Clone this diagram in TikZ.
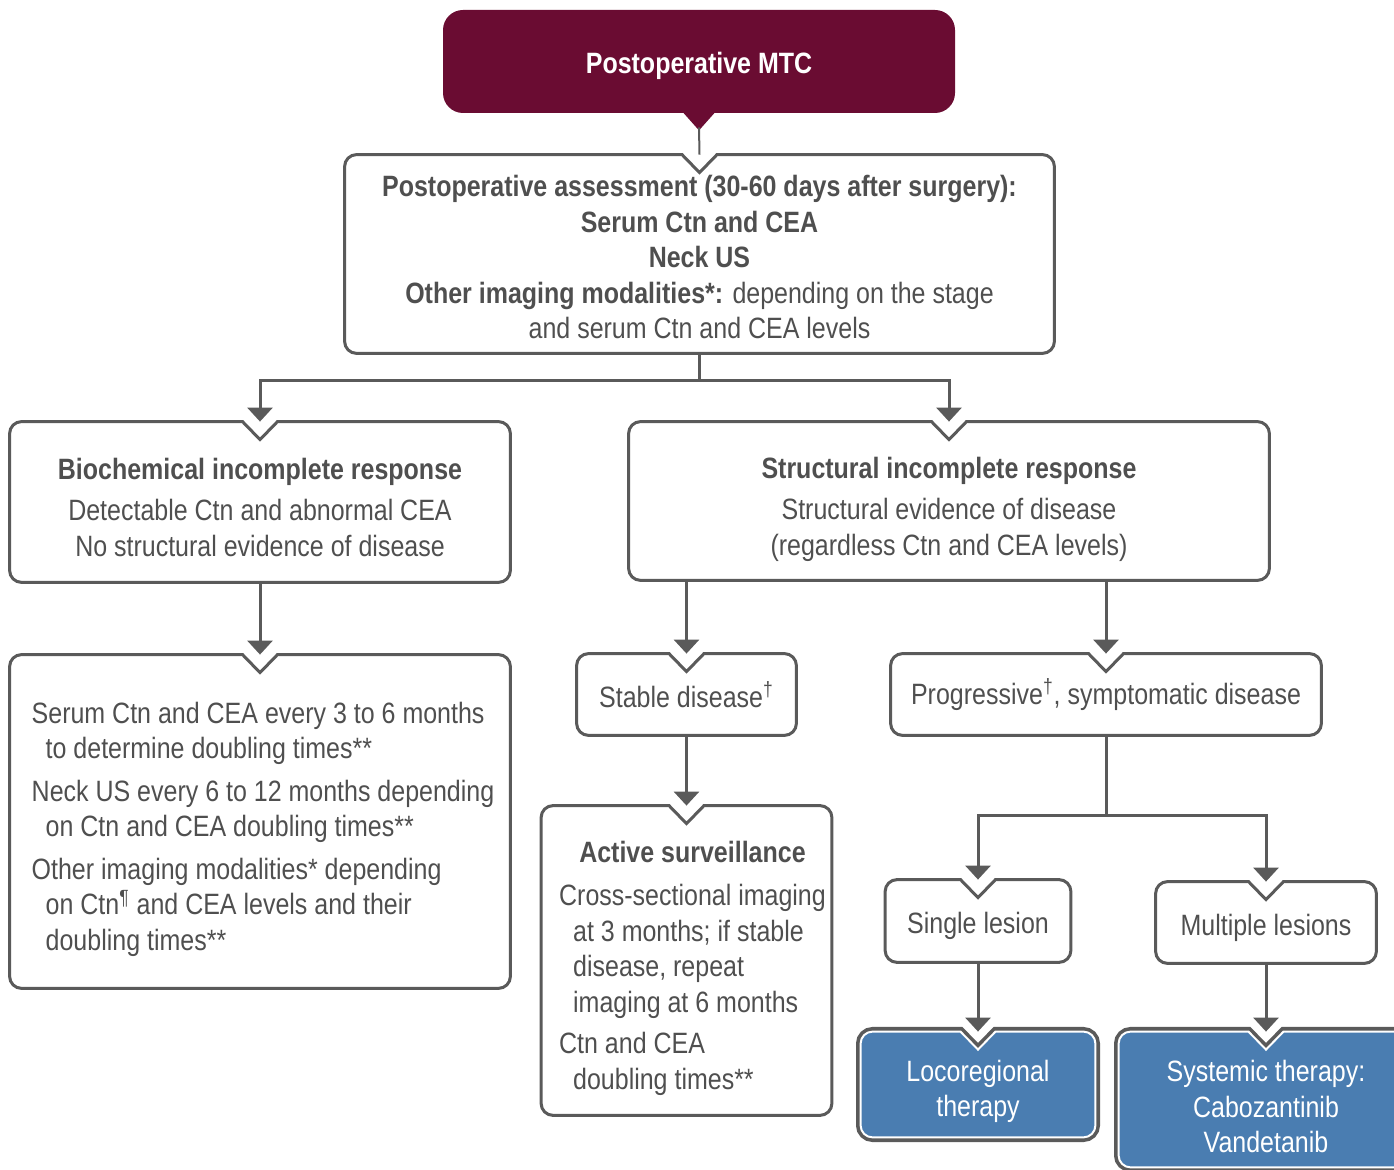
\documentclass[tikz,border=0pt]{standalone}
\usepackage{fontspec}
\setmainfont{Liberation Sans}[FakeStretch=0.85]
\usepackage{tikz}
\usetikzlibrary{arrows.meta,calc,backgrounds}

\definecolor{linegray}{HTML}{5A5A5A}
\definecolor{textgray}{HTML}{4F4F4F}
\definecolor{mtcred}{HTML}{6A0C32}
\definecolor{therblue}{HTML}{4A7DB1}

\newcommand{\notchw}{8.75pt}
\newcommand{\notchd}{9pt}
\newcommand{\cornr}{6pt}
\newcommand{\lift}[1]{\rule{0pt}{#1}}
\newcommand{\notchframe}[2]{%
  \path[#2] ($(#1.north)+(-\notchw,0)$) -- ($(#1.north)+(0,-\notchd)$) -- ($(#1.north)+(\notchw,0)$)
    -- ($(#1.north east)+(-\cornr,0)$) arc[start angle=90,end angle=0,radius=\cornr]
    -- ($(#1.south east)+(0,\cornr)$) arc[start angle=0,end angle=-90,radius=\cornr]
    -- ($(#1.south west)+(\cornr,0)$) arc[start angle=270,end angle=180,radius=\cornr]
    -- ($(#1.north west)+(0,-\cornr)$) arc[start angle=180,end angle=90,radius=\cornr]
    -- cycle;}

\tikzset{
  cell/.style={inner sep=0pt, text=textgray, font=\fontsize{14.7pt}{17.75pt}\selectfont},
  frame/.style={draw=linegray, line width=1.5pt},
  therframe/.style={preaction={draw=linegray, line width=4.6pt}, fill=therblue, postaction={draw=white, line width=1pt}},
  link/.style={draw=linegray, line width=1.5pt},
  flow/.style={draw=linegray, line width=1.5pt, -{Triangle[width=12.5pt,length=7pt]}},
}

\begin{document}
\begin{tikzpicture}
\useasboundingbox (0,0) rectangle (697pt,584.5pt);
\clip (0,0) rectangle (697pt,584.5pt);

\node[cell, fill=mtcred, rounded corners=10pt, text=white, minimum width=256pt, minimum height=51.5pt] (mtc) at (349.5pt,553.75pt) {\lift{14.7pt}\textbf{Postoperative MTC}};
\node[cell, align=center, minimum width=354.5pt, minimum height=99pt] (post) at (349.75pt,457.5pt)
  {\lift{13.7pt}\textbf{Postoperative assessment (30-60 days after surgery):}\\
   \textbf{Serum Ctn and CEA}\\
   \textbf{Neck US}\\
   \textbf{Other imaging modalities*:} depending on the stage\\
   and serum Ctn and CEA levels};
\node[cell, align=center, minimum width=250pt, minimum height=80pt] (bio) at (130pt,333.5pt)
  {\lift{15.7pt}\textbf{Biochemical incomplete response}\\[3pt]
   Detectable Ctn and abnormal CEA\\
   No structural evidence of disease};
\node[cell, align=center, minimum width=320pt, minimum height=79pt] (struct) at (474.5pt,334pt)
  {\lift{18.7pt}\textbf{Structural incomplete response}\\[3pt]
   Structural evidence of disease\\
   (regardless Ctn and CEA levels)};
\node[cell, minimum width=250pt, minimum height=166.5pt] (follow) at (130pt,173.75pt)
  {\begin{tabular}{@{\hspace{3pt}}l@{}}
   \lift{20.4pt}Serum Ctn and CEA every 3 to 6 months\\
   \hspace*{7pt}to determine doubling times**\\[3.5pt]
   Neck US every 6 to 12 months depending\\
   \hspace*{7pt}on Ctn and CEA doubling times**\\[3.5pt]
   Other imaging modalities* depending\\
   \hspace*{7pt}on Ctn\textsuperscript{¶} and CEA levels and their\\
   \hspace*{7pt}doubling times**
   \end{tabular}};
\node[cell, minimum width=109.5pt, minimum height=40.5pt] (stable) at (343.25pt,237.25pt) {Stable disease\textsuperscript{†}};
\node[cell, minimum width=145pt, minimum height=154.5pt] (active) at (343.25pt,104.25pt)
  {\begin{tabular}{@{\hspace{6pt}}l@{}}
   \multicolumn{1}{@{\hspace{6pt}}c@{}}{\lift{20.4pt}\textbf{Active surveillance}}\\[4pt]
   Cross-sectional imaging\\
   \hspace*{7pt}at 3 months; if stable\\
   \hspace*{7pt}disease, repeat\\
   \hspace*{7pt}imaging at 6 months\\[3pt]
   Ctn and CEA\\
   \hspace*{7pt}doubling times**
   \end{tabular}};
\node[cell, minimum width=215pt, minimum height=40.5pt] (prog) at (553pt,237.25pt) {\lift{12.7pt}Progressive\textsuperscript{†}, symptomatic disease};
\node[cell, minimum width=92.5pt, minimum height=41pt] (single) at (489pt,124pt) {\lift{15.7pt}Single lesion};
\node[cell, minimum width=110pt, minimum height=40.5pt] (multi) at (633pt,123.25pt) {\lift{15.7pt}Multiple lesions};
\node[cell, align=center, text=white, minimum width=117pt, minimum height=52.5pt] (loco) at (489pt,42.25pt)
  {\lift{17.7pt}Locoregional\\therapy};
\node[cell, align=center, text=white, minimum width=147pt, minimum height=67.5pt] (sys) at (633pt,34.75pt)
  {\lift{17.7pt}Systemic therapy:\\Cabozantinib\\Vandetanib};

\begin{scope}[on background layer]
\notchframe{post}{frame}
\notchframe{bio}{frame}
\notchframe{struct}{frame}
\notchframe{follow}{frame}
\notchframe{stable}{frame}
\notchframe{active}{frame}
\notchframe{prog}{frame}
\notchframe{single}{frame}
\notchframe{multi}{frame}
\notchframe{loco}{therframe}
\notchframe{sys}{therframe}
\end{scope}

\fill[mtcred] ($(mtc.south)+(-8pt,0.5pt)$) -- ($(mtc.south)+(8pt,0.5pt)$) -- ($(mtc.south)+(0,-8.5pt)$) -- cycle;
\draw[linegray, line width=1pt] ($(mtc.south)+(0,-7pt)$) -- (post.north);

\coordinate (split1) at ($(post.south)+(0,-13.5pt)$);
\draw[link] (post.south) -- (split1);
\draw[flow] (split1) -| (bio.north);
\draw[flow] (split1) -| (struct.north);
\draw[flow] (bio.south) -- (follow.north);
\draw[flow] (struct.south -| stable.north) -- (stable.north);
\draw[flow] (struct.south -| prog.north) -- (prog.north);
\draw[flow] (stable.south) -- (active.north);

\coordinate (split2) at ($(prog.south)+(0,-40pt)$);
\draw[link] (prog.south) -- (split2);
\draw[flow] (split2) -| (single.north);
\draw[flow] (split2) -| (multi.north);
\draw[flow] (single.south) -- (loco.north);
\draw[flow] (multi.south) -- (sys.north);

\end{tikzpicture}
\end{document}
